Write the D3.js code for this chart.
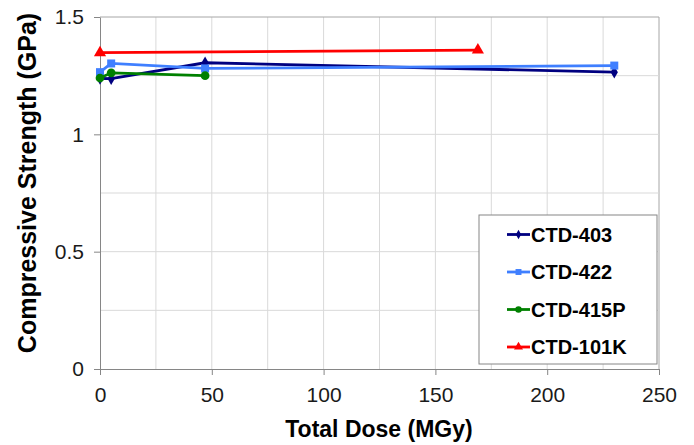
<!DOCTYPE html>
<html>
<head>
<meta charset="utf-8">
<script src="https://cdn.jsdelivr.net/npm/d3@7"></script>
<style>
  body { margin: 0; background: #fff; }
  text { font-family: "Liberation Sans", Arial, sans-serif; }
</style>
</head>
<body>
<script>
  var w = 694, h = 445;
  var margin = {top: 17, right: 35, bottom: 76, left: 100};

  // data
  var seriesNames = ["CTD-403", "CTD-422", "CTD-415P", "CTD-101K"];
  var seriesColors = ["#000080", "#3f7fff", "#008000", "#ff0000"];
  var seriesMarkers = ["diamond", "square", "circle", "triangle"];
  var dose403 = [0, 5, 47, 230];
  var strength403 = [1.238, 1.237, 1.305, 1.265];
  var dose422 = [0, 5, 47, 230];
  var strength422 = [1.265, 1.302, 1.281, 1.293];
  var dose415P = [0, 5, 47];
  var strength415P = [1.240, 1.262, 1.250];
  var dose101K = [0, 169];
  var strength101K = [1.348, 1.359];
  var xTicks = [0, 50, 100, 150, 200, 250];
  var yTicks = [0, 0.5, 1, 1.5];

  var doses = [dose403, dose422, dose415P, dose101K];
  var strengths = [strength403, strength422, strength415P, strength101K];

  var series = seriesNames.map(function (name, i) {
    return {
      name: name,
      color: seriesColors[i],
      marker: seriesMarkers[i],
      points: doses[i].map(function (d, j) { return [d, strengths[i][j]]; })
    };
  });

  var svg = d3.select("body").append("svg")
              .attr("width", w)
              .attr("height", h);

  var x = d3.scaleLinear().domain([0, 250]).range([margin.left, w - margin.right]);
  var y = d3.scaleLinear().domain([0, 1.5]).range([h - margin.bottom, margin.top]);

  // gridlines
  var grid = svg.append("g");
  grid.selectAll("line.vx")
      .data(d3.range(25, 251, 25))
      .enter().append("line")
      .attr("x1", d => x(d)).attr("x2", d => x(d))
      .attr("y1", y(0)).attr("y2", y(1.5))
      .attr("stroke", d => d === 250 ? "#a6a6a6" : "#d9d9d9")
      .attr("stroke-width", 1);
  grid.selectAll("line.hy")
      .data(d3.range(0.25, 1.51, 0.25))
      .enter().append("line")
      .attr("x1", x(0)).attr("x2", x(250))
      .attr("y1", d => y(d)).attr("y2", d => y(d))
      .attr("stroke", d => d > 1.49 ? "#a6a6a6" : "#d9d9d9")
      .attr("stroke-width", 1);

  // axes
  var xAxis = svg.append("g")
      .attr("transform", "translate(0," + y(0) + ")")
      .call(d3.axisBottom(x).tickValues(xTicks).tickSize(6).tickSizeOuter(0).tickPadding(12));
  var yAxis = svg.append("g")
      .attr("transform", "translate(" + x(0) + ",0)")
      .call(d3.axisLeft(y).tickValues(yTicks).tickFormat(d3.format("")).tickSize(6).tickSizeOuter(0).tickPadding(10));
  [xAxis, yAxis].forEach(function (a) {
    a.select(".domain").attr("stroke", "#868686");
    a.selectAll(".tick line").attr("stroke", "#868686");
    a.selectAll(".tick text").attr("font-size", 21).attr("fill", "#1a1a1a");
  });

  function markerPath(type, size) {
    var sym = {diamond: d3.symbolDiamond, square: d3.symbolSquare,
               circle: d3.symbolCircle, triangle: d3.symbolTriangle}[type];
    return d3.symbol().type(sym).size(size)();
  }
  var markerSize = {diamond: 45, square: 64, circle: 60, triangle: 64};

  var line = d3.line().x(d => x(d[0])).y(d => y(d[1]));

  var g = svg.selectAll("g.series")
      .data(series)
      .enter().append("g")
      .attr("class", "series");
  g.append("path")
      .attr("d", d => line(d.points))
      .attr("fill", "none")
      .attr("stroke", d => d.color)
      .attr("stroke-width", 2.8);
  g.each(function (s) {
    d3.select(this).selectAll("path.m")
      .data(s.points)
      .enter().append("path")
      .attr("transform", d => "translate(" + x(d[0]) + "," + y(d[1]) + ")")
      .attr("d", markerPath(s.marker, markerSize[s.marker]))
      .attr("fill", s.color);
  });

  // legend
  var lg = svg.append("g").attr("transform", "translate(479,215)");
  lg.append("rect")
    .attr("width", 178).attr("height", 149)
    .attr("fill", "#fff").attr("stroke", "#868686");
  var items = lg.selectAll("g.item")
      .data(series)
      .enter().append("g")
      .attr("transform", (d, i) => "translate(0," + (19.5 + i * 37.5) + ")");
  items.append("line")
      .attr("x1", 28).attr("x2", 51)
      .attr("stroke", d => d.color).attr("stroke-width", 2.8);
  items.append("path")
      .attr("transform", "translate(39.5,0)")
      .attr("d", d => markerPath(d.marker, markerSize[d.marker] * 0.55))
      .attr("fill", d => d.color);
  items.append("text")
      .attr("x", 52).attr("dy", "0.36em")
      .attr("font-size", 20).attr("font-weight", "bold")
      .text(d => d.name);

  // axis titles
  svg.append("text")
      .attr("x", 379).attr("y", 437)
      .attr("text-anchor", "middle")
      .attr("font-size", 23).attr("font-weight", "bold")
      .text("Total Dose (MGy)");
  svg.append("text")
      .attr("transform", "translate(36,183) rotate(-90)")
      .attr("text-anchor", "middle")
      .attr("font-size", 25).attr("font-weight", "bold")
      .text("Compressive Strength (GPa)");
</script>
</body>
</html>
